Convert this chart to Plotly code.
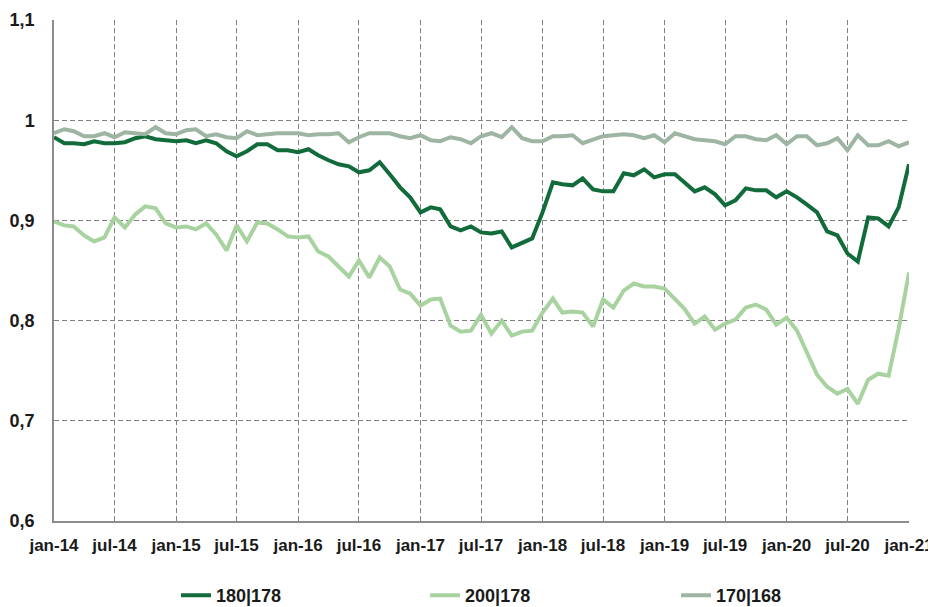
import pandas as pd
import plotly.graph_objects as go

months = pd.date_range("2014-01-01", periods=85, freq="MS")

s180_178 = [0.983, 0.977, 0.977, 0.976, 0.979, 0.977, 0.977, 0.978, 0.982, 0.984,
            0.981, 0.980, 0.979, 0.980, 0.977, 0.980, 0.977, 0.969, 0.964, 0.969,
            0.976, 0.976, 0.970, 0.970, 0.968, 0.971, 0.965, 0.960, 0.956, 0.954,
            0.948, 0.950, 0.958, 0.946, 0.933, 0.923, 0.908, 0.913, 0.911, 0.894,
            0.890, 0.894, 0.888, 0.887, 0.889, 0.873, 0.878, 0.882, 0.908, 0.938,
            0.936, 0.935, 0.942, 0.931, 0.929, 0.929, 0.947, 0.945, 0.951, 0.943,
            0.946, 0.946, 0.938, 0.929, 0.933, 0.926, 0.915, 0.920, 0.932, 0.930,
            0.930, 0.923, 0.929, 0.923, 0.916, 0.908, 0.889, 0.885, 0.867, 0.859,
            0.903, 0.902, 0.894, 0.913, 0.956]

s200_178 = [0.899, 0.895, 0.894, 0.885, 0.879, 0.883, 0.903, 0.893, 0.906, 0.914,
            0.912, 0.897, 0.893, 0.894, 0.891, 0.897, 0.886, 0.870, 0.895, 0.879,
            0.898, 0.897, 0.891, 0.884, 0.883, 0.884, 0.869, 0.864, 0.854, 0.844,
            0.860, 0.843, 0.863, 0.854, 0.831, 0.827, 0.815, 0.821, 0.822, 0.795,
            0.789, 0.790, 0.806, 0.787, 0.800, 0.785, 0.789, 0.790, 0.808, 0.822,
            0.808, 0.809, 0.808, 0.794, 0.821, 0.813, 0.830, 0.837, 0.834, 0.834,
            0.832, 0.822, 0.812, 0.797, 0.804, 0.791, 0.797, 0.801, 0.813, 0.816,
            0.811, 0.796, 0.803, 0.790, 0.768, 0.746, 0.734, 0.727, 0.732, 0.717,
            0.741, 0.747, 0.745, 0.792, 0.848]

s170_168 = [0.987, 0.991, 0.989, 0.984, 0.984, 0.987, 0.983, 0.988, 0.987, 0.986,
            0.993, 0.987, 0.986, 0.990, 0.991, 0.984, 0.986, 0.983, 0.982, 0.989,
            0.985, 0.986, 0.987, 0.987, 0.987, 0.985, 0.986, 0.986, 0.987, 0.978,
            0.983, 0.987, 0.987, 0.987, 0.984, 0.982, 0.985, 0.980, 0.979, 0.983,
            0.981, 0.977, 0.984, 0.987, 0.983, 0.993, 0.982, 0.979, 0.979, 0.984,
            0.984, 0.985, 0.977, 0.981, 0.984, 0.985, 0.986, 0.985, 0.982, 0.985,
            0.978, 0.987, 0.984, 0.981, 0.980, 0.979, 0.976, 0.984, 0.984, 0.981,
            0.980, 0.985, 0.976, 0.984, 0.984, 0.975, 0.977, 0.982, 0.970, 0.985,
            0.975, 0.975, 0.979, 0.974, 0.978]

x_tick_vals = pd.date_range("2014-01-01", "2021-01-01", freq="6MS")
x_tick_text = ["jan-14", "jul-14", "jan-15", "jul-15", "jan-16", "jul-16", "jan-17",
               "jul-17", "jan-18", "jul-18", "jan-19", "jul-19", "jan-20", "jul-20", "jan-21"]
y_tick_vals = [0.6, 0.7, 0.8, 0.9, 1.0, 1.1]
y_tick_text = ["0,6", "0,7", "0,8", "0,9", "1", "1,1"]

series = [
    ("180|178", s180_178, "#116B3A", "legend"),
    ("200|178", s200_178, "#A8D3A0", "legend2"),
    ("170|168", s170_168, "#9DB5A2", "legend3"),
]

fig = go.Figure()
for name, vals, color, leg in series:
    fig.add_trace(go.Scatter(x=months, y=vals, name=name, mode="lines",
                             line=dict(color=color, width=4), legend=leg))

font_family = "Arial, Liberation Sans, sans-serif"
legend_font = dict(size=18, weight="bold", family=font_family, color="#1a1a1a")


def leg(xpos):
    return dict(orientation="h", x=xpos, xanchor="left", y=-0.149, yanchor="middle",
                font=legend_font, bgcolor="rgba(0,0,0,0)")


# the page body adds an 8px offset; the figure is sized to fit the 936x607 window
fig.update_layout(
    width=928, height=599,
    margin=dict(l=46, r=27, t=12, b=86, autoexpand=False),
    paper_bgcolor="white", plot_bgcolor="white",
    font=dict(family=font_family, size=18, color="#1a1a1a", weight="bold"),
    showlegend=True,
    legend=leg(0.1427),
    legend2=leg(0.434),
    legend3=leg(0.7275),
)
fig.update_xaxes(
    range=[months[0], months[-1]],
    tickvals=x_tick_vals, ticktext=x_tick_text,
    tickfont=dict(size=17),
    showgrid=True, gridcolor="#808080", gridwidth=1, griddash="5px,3px",
    showline=True, linecolor="#8c8c8c", linewidth=1.5,
    ticks="", ticklabelstandoff=8, zeroline=False, automargin=False,
)
fig.update_yaxes(
    range=[0.6, 1.1],
    tickvals=y_tick_vals, ticktext=y_tick_text,
    showgrid=True, gridcolor="#808080", gridwidth=1, griddash="5px,3px",
    showline=True, linecolor="#8c8c8c", linewidth=1.5,
    ticks="", ticklabelstandoff=14, zeroline=False, automargin=False,
)

fig.write_html("out.html")
